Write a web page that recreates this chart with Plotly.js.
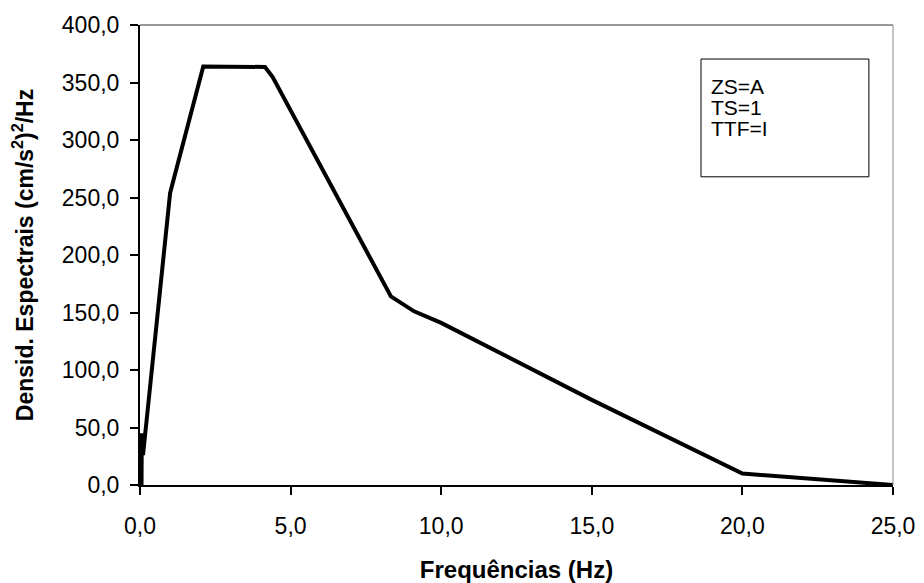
<!DOCTYPE html>
<html>
<head>
<meta charset="utf-8">
<script src="https://cdn.plot.ly/plotly-3.0.1.min.js"></script>
<style>html,body{margin:0;padding:0;background:#fff;}#chart{width:924px;height:583px;}</style>
</head>
<body>
<div id="chart"></div>
<script>
// Data
const freqHz = [0.05, 0.06, 0.1, 1.0, 2.1, 3.0, 4.15, 4.4, 8.33, 9.1, 10.0, 15.0, 20.0, 25.0];
const psdValues = [0, 45, 26, 254, 364, 363.5, 363.5, 355, 164, 151, 141, 74, 10, 0];
const xTicks = [0, 5, 10, 15, 20, 25];
const yTicks = [0, 50, 100, 150, 200, 250, 300, 350, 400];
const legendLines = ['ZS=A', 'TS=1', 'TTF=I'];

const fontFam = 'Liberation Sans, Arial, sans-serif';

const trace = {
  x: freqHz, y: psdValues, type: 'scatter', mode: 'lines',
  line: {color: '#000', width: 4, shape: 'linear'},
  hoverinfo: 'skip', showlegend: false
};

const legY = [0.866, 0.820, 0.774];
const annotations = legendLines.map((t, i) => ({
  xref: 'paper', yref: 'paper', x: 0.7556, y: legY[i],
  xanchor: 'left', yanchor: 'middle', text: t, showarrow: false,
  font: {family: fontFam, size: 21, color: '#000'}
}));

const layout = {
  width: 924, height: 583,
  margin: {l: 140, r: 31, t: 25, b: 98},
  paper_bgcolor: '#fff', plot_bgcolor: '#fff',
  separators: ', ',
  font: {family: fontFam, size: 23, color: '#000'},
  xaxis: {
    range: [0, 25], tickvals: xTicks, tickformat: '.1f',
    showgrid: false, zeroline: false,
    showline: true, linecolor: '#000', linewidth: 2,
    ticks: 'outside', ticklen: 8, tickwidth: 2, tickcolor: '#000',
    ticklabelstandoff: 11,
    tickfont: {family: fontFam, size: 23, color: '#000'},
    title: {text: '<b>Frequências (Hz)</b>', font: {family: fontFam, size: 24, color: '#000'}, standoff: 24},
    automargin: false
  },
  yaxis: {
    range: [0, 400], tickvals: yTicks, tickformat: '.1f',
    showgrid: false, zeroline: false,
    showline: true, linecolor: '#000', linewidth: 2,
    ticks: 'outside', ticklen: 8, tickwidth: 2, tickcolor: '#000',
    ticklabelstandoff: 6,
    tickfont: {family: fontFam, size: 23, color: '#000'},
    title: {text: '<b>Densid. Espectrais (cm/s<sup>2</sup>)<sup>2</sup>/Hz</b>', font: {family: fontFam, size: 23, color: '#000'}, standoff: 22},
    automargin: false
  },
  shapes: [
    {type: 'line', xref: 'paper', yref: 'paper', x0: 0, x1: 1, y0: 1, y1: 1, line: {color: '#333', width: 1}},
    {type: 'line', xref: 'paper', yref: 'paper', x0: 1, x1: 1, y0: 0, y1: 1, line: {color: '#888', width: 1}},
    {type: 'rect', xref: 'paper', yref: 'paper', x0: 0.745, x1: 0.968, y0: 0.670, y1: 0.926, line: {color: '#000', width: 1}, fillcolor: '#fff'}
  ],
  annotations: annotations
};

Plotly.newPlot('chart', [trace], layout, {displayModeBar: false, staticPlot: true});
</script>
</body>
</html>
